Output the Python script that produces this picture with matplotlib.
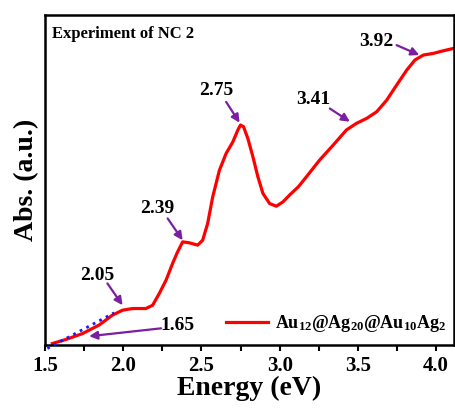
import matplotlib.pyplot as plt
from matplotlib.ticker import MultipleLocator

plt.rcParams['font.family'] = ['Liberation Serif', 'DejaVu Serif']
plt.rcParams['font.weight'] = 'bold'
plt.rcParams['mathtext.fontset'] = 'custom'
plt.rcParams['mathtext.rm'] = 'Liberation Serif:bold'
plt.rcParams['mathtext.default'] = 'rm'

# absorption spectrum
energy = [1.547, 1.632, 1.739, 1.846, 1.931, 1.996, 2.060, 2.145, 2.188, 2.231,
          2.274, 2.316, 2.345, 2.380, 2.423, 2.476, 2.508, 2.540, 2.572, 2.615,
          2.658, 2.701, 2.733, 2.750, 2.769, 2.797, 2.829, 2.861, 2.893, 2.936,
          2.979, 3.021, 3.064, 3.120, 3.171, 3.256, 3.342, 3.427, 3.491, 3.556,
          3.620, 3.684, 3.748, 3.812, 3.865, 3.919, 3.983, 4.047, 4.111]
absorb = [0.005, 0.017, 0.035, 0.061, 0.091, 0.106, 0.111, 0.111, 0.121, 0.157,
          0.197, 0.248, 0.280, 0.313, 0.310, 0.303, 0.318, 0.369, 0.449, 0.530,
          0.581, 0.616, 0.652, 0.667, 0.662, 0.626, 0.571, 0.510, 0.460, 0.429,
          0.421, 0.434, 0.455, 0.480, 0.510, 0.561, 0.606, 0.652, 0.672, 0.687,
          0.707, 0.742, 0.788, 0.833, 0.864, 0.879, 0.884, 0.892, 0.899]

# onset tangent line
onset_x = [1.515, 1.942]
onset_y = [-0.010, 0.098]

# peak annotations: label, text position, arrow tail, arrow tip
peak_labels = ['2.05', '2.39', '2.75', '3.41', '3.92', '1.65']
text_xy = [(1.835, 0.212), (2.220, 0.414), (2.594, 0.773),
           (3.214, 0.745), (3.620, 0.919), (2.348, 0.061)]
tail_xy = [(1.899, 0.187), (2.284, 0.384), (2.658, 0.737),
           (3.321, 0.717), (3.748, 0.909), (2.242, 0.051)]
tip_xy = [(1.996, 0.121), (2.380, 0.318), (2.744, 0.674),
          (3.449, 0.677), (3.893, 0.879), (1.782, 0.027)]

fig = plt.figure(figsize=(4.56, 4.08), dpi=100)
ax = fig.add_axes([0.0987, 0.154, 0.897, 0.809])

ax.plot(energy, absorb, color='#ff0000', lw=2.3, solid_joinstyle='round',
        label=r'Au$_{12}$@Ag$_{20}$@Au$_{10}$Ag$_{2}$')
ax.plot(onset_x, onset_y, color='#1a1aff', lw=2, ls=':', clip_on=False, zorder=3)

for lab, t, a, b in zip(peak_labels, text_xy, tail_xy, tip_xy):
    ax.text(t[0], t[1], lab, fontsize=14, fontweight='bold', ha='center', va='center')
    ax.annotate('', xy=b, xytext=a,
                arrowprops=dict(arrowstyle='-|>', color='#7a1fa2', lw=1.6,
                                mutation_scale=12, shrinkA=0, shrinkB=0))

ax.text(0.016, 0.968, 'Experiment of NC 2', transform=ax.transAxes,
        fontsize=12, fontweight='bold', ha='left', va='top')

ax.set_xlim(1.5, 4.115)
ax.set_ylim(0, 1)
ax.xaxis.set_major_locator(MultipleLocator(0.5))
ax.xaxis.set_minor_locator(MultipleLocator(0.25))
ax.set_yticks([])
ax.tick_params(axis='x', which='both', direction='out', length=4, width=1.5,
               labelsize=15, pad=4)
for lbl in ax.get_xticklabels():
    lbl.set_fontweight('bold')
for sp in ax.spines.values():
    sp.set_linewidth(1.8)

ax.set_xlabel('Energy (eV)', fontsize=20, fontweight='bold', labelpad=0)
ax.set_ylabel('Abs. (a.u.)', fontsize=20, fontweight='bold', labelpad=4)

ax.legend(loc='center right', bbox_to_anchor=(0.98, 0.066), frameon=False,
          borderpad=0, borderaxespad=0, handlelength=2.3, handletextpad=0.4,
          prop={'size': 13, 'weight': 'bold'})

fig.savefig('out.png', dpi=100)
